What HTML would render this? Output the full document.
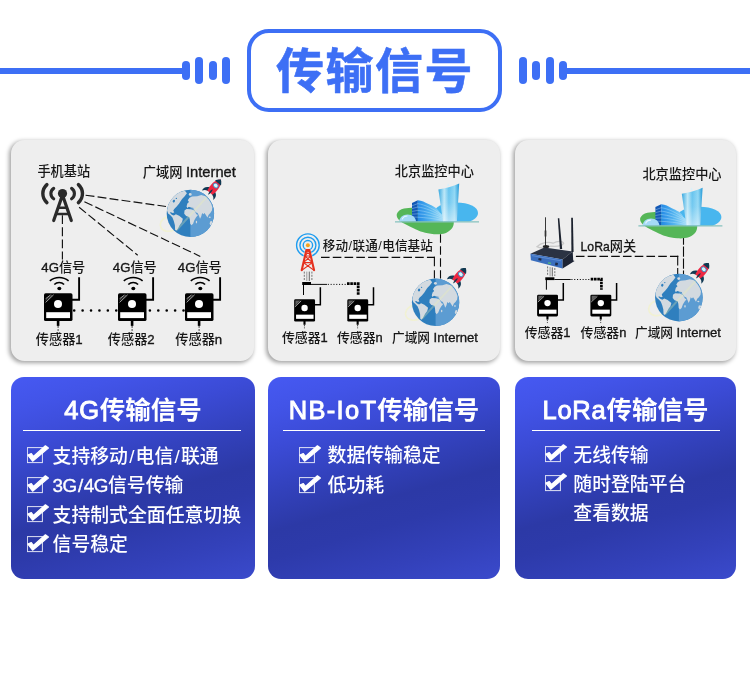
<!DOCTYPE html>
<html lang="zh-CN">
<head>
<meta charset="utf-8">
<title>传输信号</title>
<style>
*{margin:0;padding:0;box-sizing:border-box}
html,body{width:750px;height:673px;background:#fff;overflow:hidden}
body{font-family:"Liberation Sans","Noto Sans CJK SC",sans-serif;position:relative}
#page{position:absolute;left:0;top:0;width:750px;height:673px;overflow:hidden;background:#fff}
.abs{position:absolute}
/* header */
.hline{position:absolute;height:6px;top:68px;background:#3d6ff5}
.bar{position:absolute;background:#3d6ff5;border-radius:4px;width:8px}
.titlebox{position:absolute;left:247px;top:29px;width:255px;height:83px;border:4px solid #3d6ff5;border-radius:22px;background:#fff}
.title{position:absolute;left:247px;top:29px;width:255px;height:83px;line-height:83px;text-align:center;font-size:48px;font-weight:700;color:#3d6ff5;white-space:nowrap;letter-spacing:1.5px;padding-left:1.1px;padding-top:1px;-webkit-text-stroke:.6px #3d6ff5;will-change:transform}
/* grey panels */
.panel{position:absolute;top:140px;height:221px;background:#eeeeee;border-radius:13.5px;box-shadow:-1.2px 1.6px 4.5px rgba(0,0,0,.36)}
/* blue cards */
.card{position:absolute;top:377px;height:202px;border-radius:13px;color:#fff;
 background:linear-gradient(164deg,#4659f2 0%,#4254e8 12%,#3b4bd6 27%,#3342be 42%,#2c39a6 58%,#2d3aaa 68%,#3341ba 84%,#3a4acc 100%)}
.card h2{position:absolute;left:0;right:0;top:15px;height:36px;line-height:36px;text-align:center;font-size:25.5px;font-weight:700;white-space:nowrap}
.card h2 b{font-weight:400;-webkit-text-stroke:.9px #fff;letter-spacing:.7px}
.card .rule{position:absolute;top:53px;height:1px;background:#fff}
.item{position:absolute;font-size:18.85px;line-height:24px;white-space:nowrap;font-weight:500}
.item i{font-style:normal;margin:0 1.2px}
.cb{position:absolute;width:22px;height:22px}
/* diagram labels */
.lb{position:absolute;font-size:13.2px;line-height:16px;color:#161616;white-space:nowrap;font-weight:500}
.lb.s{font-size:12.9px}
.lb i{font-style:normal;margin:0 .55px}
.lb b,.item b{font-weight:400;-webkit-text-stroke:.35px currentColor}
#txt{position:absolute;left:0;top:0;width:750px;height:673px;will-change:transform}
</style>
</head>
<body>
<div id="page">

<!-- header -->
<div class="hline" style="left:0;width:186px"></div>
<div class="bar" style="left:182px;top:61px;height:19px"></div>
<div class="bar" style="left:195px;top:57px;height:27px"></div>
<div class="bar" style="left:209px;top:61px;height:19px"></div>
<div class="bar" style="left:222px;top:57px;height:27px"></div>
<div class="titlebox"></div>
<div class="title">传输信号</div>
<div class="bar" style="left:519px;top:57px;height:27px"></div>
<div class="bar" style="left:532px;top:61px;height:19px"></div>
<div class="bar" style="left:546px;top:57px;height:27px"></div>
<div class="bar" style="left:559.2px;top:61px;height:19px"></div>
<div class="hline" style="left:564px;width:186px"></div>

<!-- grey panels -->
<div class="panel" style="left:11px;width:243px"></div>
<div class="panel" style="left:268px;width:232px"></div>
<div class="panel" style="left:515px;width:221px"></div>

<svg class="abs" style="left:0;top:0" width="750" height="673" viewBox="0 0 750 673">
<defs>
  <!-- large sensor (panel 1): origin = box top-left -->
  <g id="senL">
    <path d="M28 6.5H35.1V-16" fill="none" stroke="#000" stroke-width="1.9"/>
    <rect x="12.8" y="27" width="2.6" height="5.6" fill="#000"/>
    <path d="M14.1 32.6V37.6" stroke="#222" stroke-width="0.9" stroke-dasharray="2 1.2" fill="none"/>
    <rect x="0" y="0" width="28.5" height="27.8" rx="1.6" fill="#000"/>
    <circle cx="14" cy="10.7" r="4" fill="#fff"/>
    <rect x="2.2" y="18.9" width="23.8" height="5.9" fill="#fff"/>
    <path d="M1.6 9.1L9.6 1.5M1.6 5.5L6.5 1.7" stroke="#e2e2e2" stroke-width="0.7" fill="none"/>
    <path d="M1.6 7.3L8 1.6" stroke="#8a8a8a" stroke-width="0.6" fill="none"/>
    <!-- wifi -->
    <path d="M5.8 -12.4A14.6 14.6 0 0 1 24.6 -12.4" fill="none" stroke="#000" stroke-width="1.6"/>
    <path d="M10.3 -8.8A7 7 0 0 1 20.1 -8.8" fill="none" stroke="#000" stroke-width="1.6"/>
    <ellipse cx="15.3" cy="-4.8" rx="2" ry="1.7" fill="#000"/>
  </g>
  <!-- small sensor (panel 2/3) -->
  <g id="senS">
    <path d="M20 5.4H26.2V-12" fill="none" stroke="#000" stroke-width="1.5"/>
    <rect x="9.3" y="21" width="2.1" height="4.4" fill="#000"/>
    <path d="M10.3 25.4V29" stroke="#222" stroke-width="0.8" stroke-dasharray="1.6 1" fill="none"/>
    <rect x="0" y="0" width="20.9" height="22.2" rx="1.3" fill="#000"/>
    <circle cx="10.4" cy="8.6" r="3.2" fill="#fff"/>
    <rect x="1.9" y="15.3" width="17.5" height="4.2" fill="#fff"/>
    <path d="M1.2 1.2H6.4L1.2 6.4Z" fill="#777" opacity=".8"/>
    <path d="M0.8 7.5L7 1.6" stroke="#e2e2e2" stroke-width="0.7" fill="none"/>
  </g>
  <!-- globe: 100x100 local -->
  <clipPath id="gclip"><circle cx="50" cy="50" r="50"/></clipPath>
  <g id="globe">
    <path d="M15.3 85.3C5 90 -8 88 -12 80C-16 72 -12 62 1.2 56.9" fill="none" stroke="#f5f5b8" stroke-width="3.2" opacity=".5"/>
    <circle cx="50" cy="50" r="50" fill="#2f7fbe"/>
    <g clip-path="url(#gclip)">
      <rect x="50" y="0" width="50" height="100" fill="#5c9cd2"/>
      <g fill="#d3dae0">
        <path d="M0.7 44L2.1 33.6L7.3 22.4L15.9 12L26.3 5.1L38.4 2.2L42.7 7.7L37.5 14.6L32.4 19.8L28.9 25L26.3 29.3L21.1 35.4L15.9 40.6L13.9 44L15.9 48.3L12.5 49.2L9 47.5L6.4 48.3L10.8 52.6L15.1 54.4L19.4 51.8L26.3 55.2L34.1 61.3L32.4 68.2L28 74.2L23.7 82L20.3 86.8L17.7 84.6L17.3 75.1L15.1 66.5L12.1 58.7L7.3 53.5L3 50Z"/>
        <ellipse cx="49.6" cy="10" rx="3" ry="2.8"/>
        <path d="M47.9 17.2L53.9 14.6L64.3 13.8L73 11.2L81.6 13.8L88.5 20.7L93.7 29.3L96.3 37.1L95.4 44L92 49.2L88.5 52.6L85.9 58.7L83.3 54.4L79.9 49.2L77.3 51.8L74.7 49.2L73 56.1L70.4 61.3L67.8 54.4L65.2 49.2L60.9 47.5L58.3 42.3L52.2 38.8L47 36.2L43.6 38.8L41.9 35.4L43.6 29.3L47 25.9L44.5 22.4Z"/>
        <path d="M37.5 44L41.9 40.9L50.5 41.4L58.3 44L62.6 51.8L66 53.5L61.7 58.7L58.3 64.7L55.7 71.6L52.2 75.1L49.6 71.6L48.8 63L47.4 57.5L41 55.7L37 50.9Z"/>
        <ellipse cx="62.8" cy="68.4" rx="1.4" ry="2.8"/>
        <ellipse cx="94" cy="70.8" rx="3.2" ry="4.6"/>
        <ellipse cx="90.8" cy="58" rx="2.2" ry="1.6"/>
      </g>
      <ellipse cx="15.1" cy="24.1" rx="2.4" ry="3" fill="#2f7fbe" transform="rotate(25 15.1 24.1)"/>
      <circle cx="20.4" cy="18.4" r="1.4" fill="#2f7fbe"/>
      <path d="M45 37.6L56.5 39.4" stroke="#2f7fbe" stroke-width="1.5" fill="none"/>
      <path d="M21 85L88 12" stroke="#eef2b0" stroke-width="4" opacity=".3" fill="none"/>
    </g>
  </g>
  <!-- rocket: local coords, pointing up, centre 0,0 -->
  <g id="rocket">
    <path d="M-2.4 2.5C-5.4 4-6 7-5.4 9.6C-4.6 7.6-3.6 6.6-2 6.4Z" fill="#123a54"/>
    <path d="M2.4 2.5C5.4 4 6 7 5.4 9.6C4.6 7.6 3.6 6.6 2 6.4Z" fill="#123a54"/>
    <path d="M0 -9.6C-3.3 -6.6-3.6 0-2.4 6.4H2.4C3.6 0 3.3 -6.6 0 -9.6Z" fill="#ee2742"/>
    <path d="M0 -9.6C-1.5 -8.2-2.3 -6.9-2.8 -5.4H2.8C2.3 -6.9 1.5 -8.2 0 -9.6Z" fill="#0f3a52"/>
    <path d="M0 2.2C-0.9 3.6-0.9 6.6 0 9C0.9 6.6 0.9 3.6 0 2.2Z" fill="#123a54"/>
    <circle cx="0" cy="-2.2" r="1.9" fill="#d8f4fb" stroke="#3f93c9" stroke-width=".7"/>
  </g>
  <!-- building: origin top-left, 85x52 -->
  <linearGradient id="twr" x1="0" x2="1" y1="0" y2="0">
    <stop offset="0" stop-color="#2ea4de"/><stop offset=".28" stop-color="#b9e6f7"/><stop offset=".5" stop-color="#62c2ee"/><stop offset=".78" stop-color="#8dd6f4"/><stop offset="1" stop-color="#1f97d6"/>
  </linearGradient>
  <linearGradient id="lowb" x1="0" x2="1" y1="0" y2="0">
    <stop offset="0" stop-color="#2389e6"/><stop offset=".5" stop-color="#56b6f0"/><stop offset="1" stop-color="#a5e0f9"/>
  </linearGradient>
  <linearGradient id="twrv" x1="0" x2="0" y1="0" y2="1"><stop offset="0" stop-color="#fff" stop-opacity="0"/><stop offset=".5" stop-color="#fff" stop-opacity=".12"/><stop offset="1" stop-color="#fff" stop-opacity=".5"/></linearGradient>
  <g id="bldg">
    <path d="M1.8 31C2.6 28.6 5.4 26.4 9 25.6C14 24.6 22 24.6 30 25.4C44 27 58.6 30 58.8 38.6C59 43.6 57 47 51 50C46 51.6 42 51.4 39 51.2C30 50.6 24 48 21 46.6C16 44.4 12 42 9 40.6C5 38.6 1 35 1.8 31Z" fill="#55b658"/>
    <path d="M39 30C39 24 48 19.6 61 19.6C74 19.6 83 24 83 30C83 34 79 37 74 38.6H46C41 37 39 34 39 30Z" fill="#48b6ee"/>
    <path d="M17 20L22.8 17.2V38.4H17Z" fill="#1258b6"/>
    <path d="M22.8 17.2C27 17.4 30 19.4 33 20.8C36 22.2 38 23 40.2 24.4C42.6 26 44 28 45 29.8L49 33V38.4H22.8Z" fill="url(#lowb)"/>
    <path d="M17 22.8L22.8 20.6M17 25.6L22.8 24M17 28.4L22.8 27.4M17 31.2L22.8 30.8M17 34L22.8 34.2M22.8 20.6C30 21.6 38 25.6 46 31.4M22.8 24C30 24.8 38 28 47 33.2M22.8 27.4C30 28 38 30.4 48 34.8M22.8 30.8C30 31.2 38 32.8 48 36.2M22.8 34.2C30 34.6 38 35.4 48 37.4" stroke="#c4e8fb" stroke-width=".55" fill="none" opacity=".7"/>
    <path d="M4.2 38.6C4.2 34.6 7.8 31.4 12.6 31.4C17.4 31.4 21 34.6 21 38.6Z" fill="#a4daf6"/>
    <path d="M7.2 36.4C7.8 34.4 10 33 12.4 33" stroke="#e9f7fe" stroke-width="1.1" fill="none"/>
    <path d="M43.4 6.6C50 5.6 58 3.6 64.2 0.6L61.9 38.4H48Z" fill="url(#twr)"/>
    <path d="M43.4 6.6C50 5.6 58 3.6 64.2 0.6L61.9 38.4H48Z" fill="url(#twrv)"/>
    <path d="M52 3.2L53 0.2L54.4 2.8Z" fill="#d9f1fb"/>
    <path d="M0 38.8H84" stroke="#86c2be" stroke-width="1.3"/>
  </g>
</defs>

<!-- ================= PANEL 1 ================= -->
<g fill="none" stroke="#111" stroke-width="1.15" stroke-dasharray="8.9 3.2">
  <path d="M62.4 215.2V259.6"/>
  <path d="M85.6 195.2L166 206.5"/>
  <path d="M84.4 201.7L200.3 256.4"/>
  <path d="M79.1 207.2L137.7 255.2"/>
</g>
<!-- cell tower icon -->
<g fill="none" stroke="#2a2a2a" stroke-linecap="round">
  <path d="M46.9 184.6A12 12 0 0 0 46.9 202.6" stroke-width="3.4"/>
  <path d="M78.4 184.6A12 12 0 0 1 78.4 202.6" stroke-width="3.4"/>
  <path d="M53.7 188.4A6.2 6.2 0 0 0 53.7 198.8" stroke-width="3.1"/>
  <path d="M71.6 188.4A6.2 6.2 0 0 1 71.6 198.8" stroke-width="3.1"/>
  <path d="M62.5 195L53.7 220.6M62.5 195L71.3 220.6" stroke-width="3.2"/>
  <path d="M57.8 207.8H67M56 214H68.8" stroke-width="2.4" stroke-linecap="butt"/>
</g>
<circle cx="62.5" cy="193.6" r="4.6" fill="#2a2a2a"/>
<!-- dotted link -->
<path d="M74.2 310.5H186" stroke="#000" stroke-width="2.6" stroke-dasharray="0.01 8.4" stroke-linecap="round" fill="none"/>
<use href="#senL" x="44" y="293.3"/>
<use href="#senL" x="118" y="293.3"/>
<use href="#senL" x="185" y="293.3"/>
<!-- globe + rocket -->
<use href="#globe" transform="translate(166.7 189.7) scale(0.474)"/>
<use href="#rocket" transform="translate(214.2 187.4) rotate(40) scale(1.36 1.08)"/>

<!-- ================= PANEL 2 ================= -->
<g fill="none" stroke="#0c0c0c" stroke-width="1.1">
  <path d="M440.5 234.3V278.4" stroke-dasharray="8.5 3.45"/>
  <path d="M321 257.4H435" stroke-dasharray="8.6 3.17"/>
  <path d="M434.4 256.8V278.4" stroke-dasharray="9.5 3.9"/>
</g>
<use href="#bldg" transform="translate(395 183)"/>
<!-- red tower with rings -->
<g fill="none" stroke="#1e9df0" stroke-width="1.4">
  <circle cx="307.9" cy="245.2" r="4.7"/><circle cx="307.9" cy="245.2" r="8"/><circle cx="307.9" cy="245.2" r="11.3"/>
</g>
<path d="M305.2 249.4H310.6L315.8 270.6H300Z" fill="#eeeeee"/>
<g fill="none" stroke="#e5301e" stroke-linejoin="round" stroke-linecap="round">
  <path d="M301.7 270.2L306.4 250H309.4L314.1 270.2" stroke-width="2.1"/>
  <path d="M304.9 256H310.9M303.4 262.6H312.4M304.9 256L312.4 262.6M310.9 256L303.4 262.6M303.4 262.6L313.6 270M312.4 262.6L302.2 270M306.6 250.6L310.6 255.6M309.2 250.6L305.2 255.6" stroke-width="1.05"/>
</g>
<circle cx="307.9" cy="245.2" r="2" fill="#f6a21c"/>
<g fill="none" stroke="#555" stroke-width=".8">
  <path d="M304.3 271.6V280.4" stroke-dasharray="2 1.2"/><path d="M306.8 271.6V281" stroke="#888"/><path d="M309.3 271.6V281" stroke="#444"/><path d="M311.9 271.6V280.4" stroke-dasharray="2 1.2"/>
</g>
<path d="M302.2 283.5H311" stroke="#000" stroke-width="3" fill="none"/>
<path d="M311 284.4H327" stroke="#000" stroke-width=".95" fill="none"/>
<path d="M327.8 284.4H347" stroke="#000" stroke-width=".95" stroke-dasharray="1.1 1.7" fill="none"/>
<path d="M347 283.6H358.2V295" stroke="#000" stroke-width="2.8" stroke-dasharray="2.6 0.7" fill="none"/>
<path d="M303.5 285V295" stroke="#000" stroke-width="1" fill="none"/>
<use href="#senS" x="294.15" y="299.35"/>
<use href="#senS" x="347.3" y="299.35"/>
<use href="#globe" transform="translate(411.9 278.6) scale(0.474)"/>
<use href="#rocket" transform="translate(459.2 276.1) rotate(40) scale(1.36 1.08)"/>

<!-- ================= PANEL 3 ================= -->
<g fill="none" stroke="#0c0c0c" stroke-width="1.1">
  <path d="M683.5 234.4V274" stroke-dasharray="10.4 1.6"/>
  <path d="M575.9 256.4H678.3" stroke-dasharray="8.6 3.16"/>
  <path d="M677.7 255.8V274" stroke-dasharray="9.7 2.5"/>
</g>
<use href="#bldg" transform="translate(638.4 187.1)"/>
<!-- LoRa gateway -->
<g>
  <path d="M537 246.6C541 242.6 549 241.4 553 243.2C558 240.4 563 241 563.6 243.4C562 246 556 246.6 551 246.2C546 248 540 248.4 537 246.6Z" fill="none" stroke="#c9c9c9" stroke-width="1.3"/>
  <path d="M545.5 217.3V246" stroke="#222" stroke-width=".9"/>
  <path d="M545.5 230.5V236.5" stroke="#333" stroke-width="1.7"/>
  <ellipse cx="546" cy="246.6" rx="3.2" ry="1.5" fill="#222"/>
  <path d="M557.8 218.3H559.3L562.2 249H559.9Z" fill="#1c222e"/>
  <path d="M571.2 217.8H572.9L573.6 252H571.4Z" fill="#1c222e"/>
  <path d="M530.4 253.7L544.4 247.4L572.7 251.4L562.6 259.4Z" fill="#2b3343"/>
  <path d="M530.4 253.7L562.6 259.4V268.4L530.9 260.2Z" fill="#3b6fbe"/>
  <path d="M562.6 259.4L572.7 251.4L573.2 260.6L574.6 261L562.6 268.4Z" fill="#1d2434"/>
  <path d="M532 255.6L561 260.8" stroke="#6c9add" stroke-width=".7"/>
  <rect x="538.4" y="258.2" width="3" height="2.2" fill="#1f2a44" transform="rotate(10 539.9 259.3)"/>
  <rect x="548" y="262.4" width="3" height="1.4" fill="#59c271" transform="rotate(10 549.5 263.1)"/>
  <rect x="555.2" y="262.8" width="2.6" height="2.6" fill="#1f2a44" transform="rotate(10 556.5 264.1)"/>
</g>
<g fill="none" stroke="#555" stroke-width=".8">
  <path d="M547.6 266.4V276" stroke-dasharray="2 1.2"/><path d="M550.1 267V276.4" stroke="#888"/><path d="M552.3 267.4V276.4" stroke="#444"/><path d="M554.8 268V276" stroke-dasharray="2 1.2"/>
</g>
<path d="M545.3 278.7H554.4" stroke="#000" stroke-width="2.8" fill="none"/>
<path d="M554.4 279.5H570.7" stroke="#000" stroke-width=".95" fill="none"/>
<path d="M571.4 279.5H591" stroke="#000" stroke-width=".95" stroke-dasharray="1.1 1.7" fill="none"/>
<path d="M590.7 279.2H601.4V289.8" stroke="#000" stroke-width="2.7" stroke-dasharray="2.6 0.7" fill="none"/>
<path d="M546.4 280V289.7" stroke="#000" stroke-width="1" fill="none"/>
<use href="#senS" transform="translate(537.1 294.7) scale(1 .977)"/>
<use href="#senS" transform="translate(590.4 294.7) scale(1 .977)"/>
<use href="#globe" transform="translate(655.1 273.8) scale(0.476)"/>
<use href="#rocket" transform="translate(702.2 271.1) rotate(40) scale(1.36 1.08)"/>
</svg>

<!-- labels panel 1 -->
<div id="txt">
<div class="lb" style="left:37.4px;top:164.1px">手机基站</div>
<div class="lb" style="left:142.8px;top:163.9px">广域网 <b style="font-size:14.7px">Internet</b></div>
<div class="lb" style="left:41.3px;top:259.6px"><b>4G</b>信号</div>
<div class="lb" style="left:112.8px;top:259.6px"><b>4G</b>信号</div>
<div class="lb" style="left:177.8px;top:259.6px"><b>4G</b>信号</div>
<div class="lb" style="left:35.8px;top:332.4px">传感器<b>1</b></div>
<div class="lb" style="left:107.8px;top:332.4px">传感器<b>2</b></div>
<div class="lb" style="left:175.3px;top:332.4px">传感器<b>n</b></div>
<!-- labels panel 2 -->
<div class="lb" style="left:394.8px;top:163.8px">北京监控中心</div>
<div class="lb s" style="left:322.8px;top:238.4px;font-size:12.6px">移动<i>/</i>联通<i>/</i>电信基站</div>
<div class="lb s" style="left:281.9px;top:329.8px">传感器<b>1</b></div>
<div class="lb s" style="left:336.9px;top:329.8px">传感器<b>n</b></div>
<div class="lb s" style="left:392px;top:329.8px;font-size:12.7px">广域网 <b style="font-size:13.1px">Internet</b></div>
<!-- labels panel 3 -->
<div class="lb" style="left:642.4px;top:167.3px">北京监控中心</div>
<div class="lb" style="left:580.6px;top:238.7px"><b style="font-size:12.2px">LoRa</b>网关</div>
<div class="lb s" style="left:524.7px;top:324.7px">传感器<b>1</b></div>
<div class="lb s" style="left:580.5px;top:324.7px">传感器<b>n</b></div>
<div class="lb s" style="left:635px;top:324.9px;font-size:12.7px">广域网 <b style="font-size:13.1px">Internet</b></div>
</div>


<!-- blue cards -->
<div class="card" style="left:11px;width:244px">
  <h2><b>4G</b>传输信号</h2>
  <div class="rule" style="left:12px;width:218px"></div>
</div>
<div class="card" style="left:268px;width:232px">
  <h2><b style="letter-spacing:1.3px">NB-IoT</b>传输信号</h2>
  <div class="rule" style="left:15px;width:202px"></div>
</div>
<div class="card" style="left:515px;width:221px">
  <h2><b>LoRa</b>传输信号</h2>
  <div class="rule" style="left:17px;width:188px"></div>
</div>

<div id="txt2" style="position:absolute;left:0;top:0;width:750px;height:673px;will-change:transform">
<svg class="cb" style="left:27.2px;top:445.2px" viewBox="0 0 22 22"><rect x=".4" y="2.6" width="15" height="15" fill="none" stroke="#fff" stroke-opacity=".85" stroke-width="1"/><path d="M0.9 10.1L4.3 8.5L6.4 11.4L18.4 0.8L21.4 3.1L5.6 16.2Z" fill="#fff" stroke="#fff" stroke-width="1.2" stroke-linejoin="round"/></svg>
<div class="item" style="left:52.6px;top:444.5px;color:#fff">支持移动<i>/</i>电信<i>/</i>联通</div>
<svg class="cb" style="left:27.2px;top:474.7px" viewBox="0 0 22 22"><rect x=".4" y="2.6" width="15" height="15" fill="none" stroke="#fff" stroke-opacity=".85" stroke-width="1"/><path d="M0.9 10.1L4.3 8.5L6.4 11.4L18.4 0.8L21.4 3.1L5.6 16.2Z" fill="#fff" stroke="#fff" stroke-width="1.2" stroke-linejoin="round"/></svg>
<div class="item" style="left:52.6px;top:474px;color:#fff"><b style="letter-spacing:-.5px">3G<i>/</i>4G</b>信号传输</div>
<svg class="cb" style="left:27.2px;top:504.2px" viewBox="0 0 22 22"><rect x=".4" y="2.6" width="15" height="15" fill="none" stroke="#fff" stroke-opacity=".85" stroke-width="1"/><path d="M0.9 10.1L4.3 8.5L6.4 11.4L18.4 0.8L21.4 3.1L5.6 16.2Z" fill="#fff" stroke="#fff" stroke-width="1.2" stroke-linejoin="round"/></svg>
<div class="item" style="left:52.6px;top:503.5px;color:#fff">支持制式全面任意切换</div>
<svg class="cb" style="left:27.2px;top:533.7px" viewBox="0 0 22 22"><rect x=".4" y="2.6" width="15" height="15" fill="none" stroke="#fff" stroke-opacity=".85" stroke-width="1"/><path d="M0.9 10.1L4.3 8.5L6.4 11.4L18.4 0.8L21.4 3.1L5.6 16.2Z" fill="#fff" stroke="#fff" stroke-width="1.2" stroke-linejoin="round"/></svg>
<div class="item" style="left:52.6px;top:533px;color:#fff">信号稳定</div>
<svg class="cb" style="left:299.2px;top:444.7px" viewBox="0 0 22 22"><rect x=".4" y="2.6" width="15" height="15" fill="none" stroke="#fff" stroke-opacity=".85" stroke-width="1"/><path d="M0.9 10.1L4.3 8.5L6.4 11.4L18.4 0.8L21.4 3.1L5.6 16.2Z" fill="#fff" stroke="#fff" stroke-width="1.2" stroke-linejoin="round"/></svg>
<div class="item" style="left:327.6px;top:444px;color:#fff">数据传输稳定</div>
<svg class="cb" style="left:299.2px;top:474.7px" viewBox="0 0 22 22"><rect x=".4" y="2.6" width="15" height="15" fill="none" stroke="#fff" stroke-opacity=".85" stroke-width="1"/><path d="M0.9 10.1L4.3 8.5L6.4 11.4L18.4 0.8L21.4 3.1L5.6 16.2Z" fill="#fff" stroke="#fff" stroke-width="1.2" stroke-linejoin="round"/></svg>
<div class="item" style="left:327.6px;top:474px;color:#fff">低功耗</div>
<svg class="cb" style="left:545.2px;top:444.3px" viewBox="0 0 22 22"><rect x=".4" y="2.6" width="15" height="15" fill="none" stroke="#fff" stroke-opacity=".85" stroke-width="1"/><path d="M0.9 10.1L4.3 8.5L6.4 11.4L18.4 0.8L21.4 3.1L5.6 16.2Z" fill="#fff" stroke="#fff" stroke-width="1.2" stroke-linejoin="round"/></svg>
<div class="item" style="left:573.3px;top:443.6px;color:#fff">无线传输</div>
<svg class="cb" style="left:545.2px;top:473.3px" viewBox="0 0 22 22"><rect x=".4" y="2.6" width="15" height="15" fill="none" stroke="#fff" stroke-opacity=".85" stroke-width="1"/><path d="M0.9 10.1L4.3 8.5L6.4 11.4L18.4 0.8L21.4 3.1L5.6 16.2Z" fill="#fff" stroke="#fff" stroke-width="1.2" stroke-linejoin="round"/></svg>
<div class="item" style="left:573.3px;top:472.6px;color:#fff">随时登陆平台</div>
<div class="item" style="left:573.3px;top:501.8px;color:#fff">查看数据</div>
</div>


</div>
</body>
</html>
